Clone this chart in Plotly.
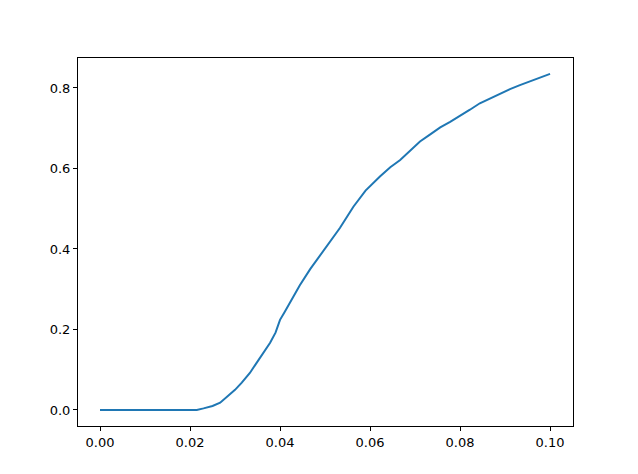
import plotly.graph_objects as go

x_vals = [0.0, 0.005, 0.010, 0.015, 0.020, 0.0215, 0.023, 0.025, 0.0267, 0.028, 0.030,
          0.0315, 0.0333, 0.0345, 0.0356, 0.0378, 0.039, 0.040, 0.041, 0.0425, 0.0444,
          0.0467, 0.0489, 0.0511, 0.0533, 0.0563, 0.059, 0.0622, 0.0645, 0.0667, 0.0689,
          0.0711, 0.0733, 0.0756, 0.0778, 0.080, 0.0822, 0.0844, 0.0867, 0.0889, 0.0911,
          0.0933, 0.0956, 0.0978, 0.100]
y_vals = [0.0, 0.0, 0.0, 0.0, 0.0, 0.0, 0.004, 0.010, 0.018, 0.030, 0.050,
          0.068, 0.092, 0.112, 0.130, 0.167, 0.192, 0.224, 0.243, 0.272, 0.310,
          0.350, 0.385, 0.420, 0.452, 0.505, 0.545, 0.580, 0.603, 0.621, 0.645,
          0.667, 0.684, 0.702, 0.716, 0.730, 0.746, 0.762, 0.774, 0.787, 0.797,
          0.807, 0.817, 0.827, 0.835]

fig = go.Figure()

fig.add_trace(go.Scatter(
    x = x_vals,
    y = y_vals,
    mode = "lines",
    line = dict(color = "#1f77b4", width = 2),
    showlegend = False
))

axis_style = dict(
    showline = True,
    linecolor = "black",
    linewidth = 1,
    mirror = True,
    ticks = "outside",
    ticklen = 4,
    tickcolor = "black",
    showgrid = False,
    zeroline = False,
    tickfont = dict(family = "DejaVu Sans", size = 13, color = "black")
)

# thin window edge on the right side of the picture
fig.add_shape(type = "line", xref = "paper", yref = "paper",
              x0 = 1.130, x1 = 1.130, y0 = 1.14, y1 = 0.8315,
              line = dict(color = "#2a0a1e", width = 1.5))
fig.add_shape(type = "line", xref = "paper", yref = "paper",
              x0 = 1.130, x1 = 1.130, y0 = 0.8315, y1 = -0.14,
              line = dict(color = "#9a9a9a", width = 1.5))

fig.update_layout(
    width = 630,
    height = 466,
    margin = dict(l = 70, r = 65, t = 50, b = 48),
    plot_bgcolor = "white",
    paper_bgcolor = "white",
    xaxis = dict(
        range = [-0.00489, 0.1051],
        tickvals = [0.0, 0.02, 0.04, 0.06, 0.08, 0.10],
        ticktext = ["0.00", "0.02", "0.04", "0.06", "0.08", "0.10"],
        **axis_style
    ),
    yaxis = dict(
        range = [-0.0398, 0.8745],
        tickvals = [0.0, 0.2, 0.4, 0.6, 0.8],
        ticktext = ["0.0", "0.2", "0.4", "0.6", "0.8"],
        **axis_style
    )
)

fig.write_html("out.html")
